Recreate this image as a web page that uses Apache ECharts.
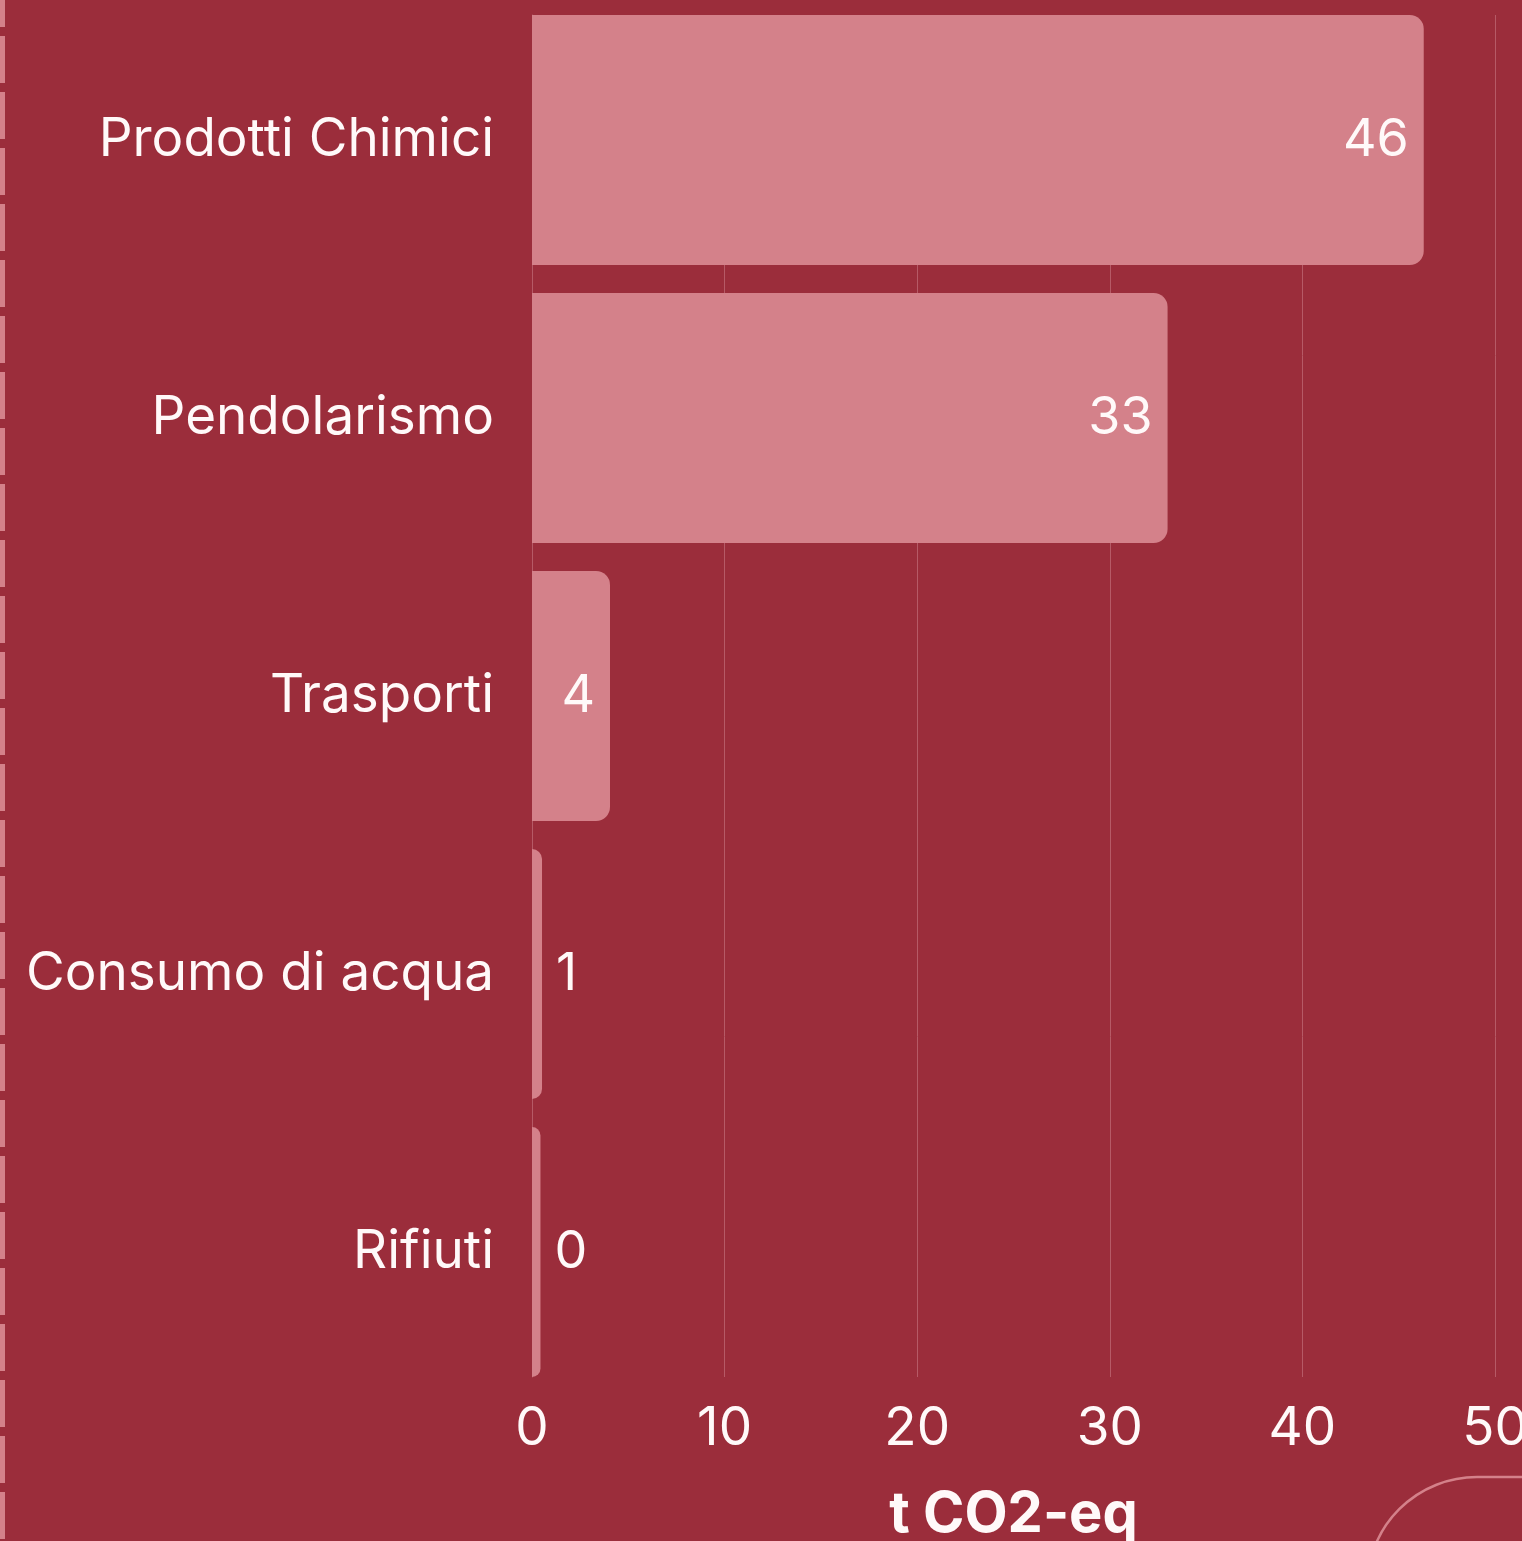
<!DOCTYPE html>
<html>
<head>
<meta charset="utf-8">
<script src="https://cdn.jsdelivr.net/npm/echarts@6/dist/echarts.min.js"></script>
<style>
html,body{margin:0;padding:0;background:#9B2D3B;}
#c{width:1522px;height:1541px;}
</style>
</head>
<body>
<div id="c"></div>
<script>
const categories = ['Prodotti Chimici', 'Pendolarismo', 'Trasporti', 'Consumo di acqua', 'Rifiuti'];
const values = [46.3, 33.0, 4.05, 0.52, 0.44];
const xTicks = [0, 10, 20, 30, 40, 50];
const axisName = 't CO2-eq';

const FONT = 'Inter, "Noto Sans", sans-serif';
const BG = '#9B2D3B';
const BAR = '#D4818A';
const GRID = '#B65A66';
const TXT = '#FFF9F9';

const chart = echarts.init(document.getElementById('c'), null, {renderer: 'canvas'});

const data = values.map(v => ({
  value: v,
  label: {position: v < 2 ? 'right' : 'insideRight', distance: v < 2 ? 14 : 15}
}));

chart.setOption({
  backgroundColor: BG,
  animation: false,
  grid: [
    {left: 532, right: 27, top: 1, height: 1390, containLabel: false, outerBoundsMode: 'none'},
    {left: 532, right: 27, top: 15, height: 1362, containLabel: false, outerBoundsMode: 'none'}
  ],
  xAxis: [
    {gridIndex: 0, type: 'value', min: xTicks[0], max: xTicks[xTicks.length - 1], interval: 10,
     axisLabel: {show: false}, axisLine: {show: false}, axisTick: {show: false}, splitLine: {show: false}},
    {gridIndex: 1, type: 'value', min: xTicks[0], max: xTicks[xTicks.length - 1], interval: 10,
     axisLine: {show: false}, axisTick: {show: false},
     splitLine: {show: true, lineStyle: {color: GRID, width: 1}},
     axisLabel: {color: TXT, fontSize: 53, fontFamily: FONT, margin: 26},
     name: axisName, nameLocation: 'middle', nameGap: 110,
     nameTextStyle: {color: TXT, fontSize: 56, fontWeight: 'bold', fontFamily: FONT}}
  ],
  yAxis: [
    {gridIndex: 0, type: 'category', data: categories, inverse: true,
     axisLine: {show: false}, axisTick: {show: false},
     axisLabel: {color: TXT, fontSize: 53, fontFamily: FONT, margin: 38}},
    {gridIndex: 1, type: 'value', min: 0, max: 1,
     axisLine: {show: true, lineStyle: {color: GRID, width: 1}},
     axisLabel: {show: false}, axisTick: {show: false}, splitLine: {show: false}}
  ],
  series: [{
    type: 'bar', xAxisIndex: 0, yAxisIndex: 0, data: data, barWidth: 250,
    itemStyle: {color: BAR, borderRadius: [0, 14, 14, 0]},
    label: {show: true, color: TXT, fontSize: 52, fontFamily: FONT,
            formatter: p => String(Math.round(p.value))},
    z: 3
  }],
  graphic: [
    {type: 'line', shape: {x1: 2.5, y1: 0, x2: 2.5, y2: 1541},
     style: {stroke: BAR, lineWidth: 5, lineDash: [47, 9], lineDashOffset: 20}, silent: true},
    {type: 'rect', shape: {x: 1367, y: 1477, width: 400, height: 400, r: [110, 0, 0, 0]},
     style: {fill: null, stroke: BAR, lineWidth: 2.5}, silent: true}
  ]
});
</script>
</body>
</html>
